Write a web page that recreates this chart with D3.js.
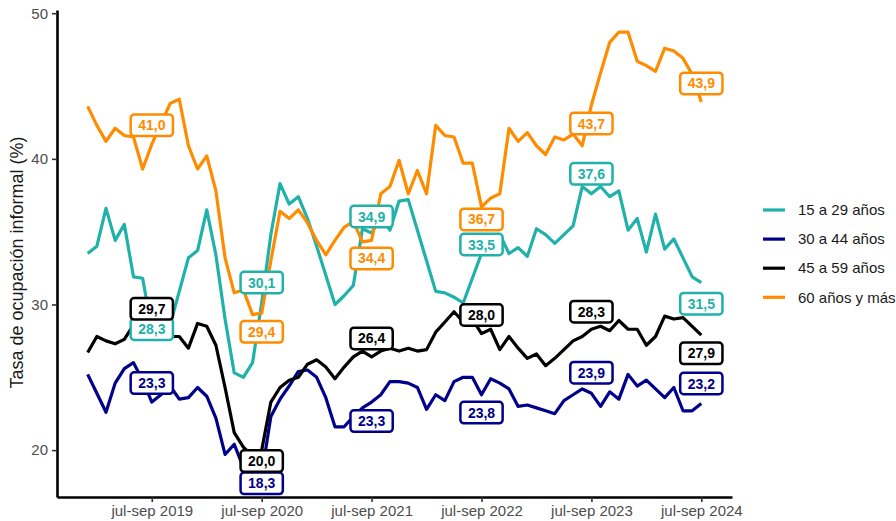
<!DOCTYPE html>
<html><head><meta charset="utf-8">
<script src="https://cdn.jsdelivr.net/npm/d3@7"></script>
<style>
body{margin:0;background:#fff}
svg{display:block;font-family:"Liberation Sans",Arial,sans-serif}
</style>
</head><body>
<svg id="chart" width="896" height="521"></svg>
<script>
// ---------- DATA ----------
const seriesNames = ["15 a 29 años", "30 a 44 años", "45 a 59 años", "60 años y más"];
const seriesColors = ["#20B2AA", "#00008B", "#000000", "#FF8C00"];
const monthAbbr = ["ene","feb","mar","abr","may","jun","jul","ago","sep","oct","nov","dic"];
// moving quarters: dic-feb 2019 ... jul-sep 2024 (68 periods)
const periods = [];
for (let k = 0; k < 68; k++) {
  const endM = (1 + k) % 12, endY = 2019 + Math.floor((1 + k) / 12);
  periods.push(monthAbbr[(endM + 10) % 12] + "-" + monthAbbr[endM] + " " + endY);
}
const tickLabels = ["jul-sep 2019","jul-sep 2020","jul-sep 2021","jul-sep 2022","jul-sep 2023","jul-sep 2024"];
const yTicks = [20, 30, 40, 50];

const age15to29 = [33.5,34.0,36.6,34.4,35.5,31.9,31.8,28.3,28.2,28.6,30.9,33.2,33.7,36.5,33.4,29.0,25.3,25.0,26.0,30.1,
  34.8,38.3,36.9,37.4,35.9,34.0,32.0,30.0,30.6,31.3,35.2,34.9,36.0,35.1,37.1,37.2,35.1,33.0,30.9,30.8,
  30.5,30.1,31.8,33.5,34.6,34.8,33.5,33.9,33.3,35.2,34.8,34.2,34.8,35.4,38.1,37.6,38.1,37.4,37.8,35.1,
  35.9,33.6,36.2,33.8,34.5,33.2,31.9,31.5];
const age30to44 = [25.2,23.9,22.6,24.6,25.6,26.0,24.8,23.3,23.8,24.4,23.5,23.6,24.3,23.7,22.2,19.7,20.4,18.8,18.5,18.3,
  22.3,23.5,24.4,25.4,25.5,25.0,23.6,21.6,21.6,22.3,22.9,23.3,23.8,24.7,24.7,24.6,24.3,22.8,23.8,23.4,
  24.7,25.0,25.0,23.8,24.9,24.6,24.2,23.0,23.1,22.9,22.7,22.5,23.4,23.8,24.2,23.9,23.0,24.0,23.5,25.2,
  24.4,24.8,24.2,23.6,24.3,22.7,22.7,23.2];
const age45to59 = [26.7,27.8,27.5,27.3,27.6,28.6,29.3,29.7,28.6,27.8,27.8,27.0,28.7,28.5,27.2,24.3,21.2,20.2,19.6,20.0,
  23.3,24.3,24.8,25.0,25.9,26.2,25.7,24.9,25.7,26.4,26.8,26.4,26.8,27.0,26.8,27.0,26.8,26.9,28.1,28.8,
  29.5,28.8,29.0,28.0,28.3,26.9,27.8,27.0,26.3,26.6,25.8,26.3,26.9,27.5,27.8,28.3,28.5,28.2,28.9,28.3,
  28.3,27.2,27.8,29.2,29.0,29.1,28.5,27.9];
const age60plus = [43.6,42.3,41.2,42.1,41.6,41.5,39.3,41.0,42.4,43.8,44.1,40.9,39.3,40.2,37.8,33.2,30.8,31.0,29.3,29.4,
  33.0,36.4,35.9,36.5,35.6,34.4,33.4,34.4,35.3,35.7,34.3,34.4,37.6,38.1,39.9,37.6,39.2,37.6,42.3,41.6,
  41.5,39.7,39.7,36.7,37.3,37.6,42.1,41.2,41.8,40.9,40.3,41.5,41.3,41.7,40.9,43.7,45.9,48.0,48.7,48.7,
  46.7,46.4,46.0,47.6,47.4,46.9,45.8,43.9];
const seriesValues = [age15to29, age30to44, age45to59, age60plus];

// label placement (repel result, px offset of label centre from its point), per series at each tick period
const labelNudgeY = [
  [0, -20.5, -16.6, -9, -20, 21],
  [-19, 8.5, 19, 17.8, -20.6, -20],
  [0, 11, -18.5, -18.6, -17.5, 18.3],
  [-19, 18.6, 18, 12.5, 18.5, -18.6]
];

// ---------- LAYOUT ----------
const svg = d3.select("#chart");
const panel = {left: 57, right: 732, top: 10, bottom: 497};

const x = d3.scalePoint().domain(periods).range([panel.left, panel.right]).padding(3.35);
const allVals = seriesValues.flat();
const [vmin, vmax] = d3.extent(allVals);
const pad = (vmax - vmin) * 0.05;
const y = d3.scaleLinear().domain([vmin - pad, vmax + pad]).range([panel.bottom, panel.top]);

// axes
const yAxis = svg.append("g").attr("transform", `translate(${panel.left},0)`)
  .call(d3.axisLeft(y).tickValues(yTicks).tickSize(5).tickSizeOuter(0).tickPadding(4).tickFormat(d3.format("d")));
const xAxis = svg.append("g").attr("transform", `translate(0,${panel.bottom})`)
  .call(d3.axisBottom(x).tickValues(tickLabels).tickSize(5).tickSizeOuter(0).tickPadding(3));
[yAxis, xAxis].forEach(g => {
  g.select(".domain").attr("stroke", "#000").attr("stroke-width", 2.6);
  g.selectAll(".tick line").attr("stroke", "#333").attr("stroke-width", 1.6);
  g.selectAll(".tick text").attr("fill", "#4D4D4D").style("font-size", "15px")
    .style("font-family", '"Liberation Sans",Arial,sans-serif');
});
xAxis.selectAll(".tick text").attr("dy", "0.75em");

// y title
svg.append("text")
  .attr("transform", `translate(23,${(panel.top + panel.bottom) / 2 + 9}) rotate(-90)`)
  .attr("text-anchor", "middle")
  .style("font-size", "18px").attr("fill", "#1a1a1a")
  .text("Tasa de ocupación informal (%)");

// lines
const line = d3.line().x((d, i) => x(periods[i])).y(d => y(d));
seriesValues.forEach((vals, s) => {
  svg.append("path").datum(vals)
    .attr("fill", "none").attr("stroke", seriesColors[s])
    .attr("stroke-width", 3.2).attr("stroke-linejoin", "round")
    .attr("d", line);
});

// labels
const fmt = v => d3.format(".1f")(v).replace(".", ",");
seriesValues.forEach((vals, s) => {
  tickLabels.forEach((p, k) => {
    const i = periods.indexOf(p);
    const cx = x(p), cy = y(vals[i]) + labelNudgeY[s][k];
    const g = svg.append("g").attr("transform", `translate(${cx},${cy})`);
    const rect = g.append("rect");
    const t = g.append("text").attr("text-anchor", "middle").attr("dy", "0.36em")
      .style("font-size", "14px").style("font-weight", "bold")
      .attr("fill", seriesColors[s]).text(fmt(vals[i]));
    const w = t.node().getComputedTextLength() + 15;
    const h = 21.5;
    rect.attr("x", -w / 2).attr("y", -h / 2).attr("width", w).attr("height", h)
      .attr("rx", 3.5).attr("fill", "#fff")
      .attr("stroke", seriesColors[s]).attr("stroke-width", 2.5);
  });
});

// legend
const legend = svg.append("g").attr("transform", "translate(763,210)");
seriesNames.forEach((name, s) => {
  const g = legend.append("g").attr("transform", `translate(0,${s * 29.1})`);
  g.append("line").attr("x1", 0).attr("x2", 22).attr("y1", 0).attr("y2", 0)
    .attr("stroke", seriesColors[s]).attr("stroke-width", 3.2);
  g.append("text").attr("x", 35).attr("dy", "0.35em")
    .style("font-size", "15px").attr("fill", "#1a1a1a").text(name);
});
</script>
</body></html>
